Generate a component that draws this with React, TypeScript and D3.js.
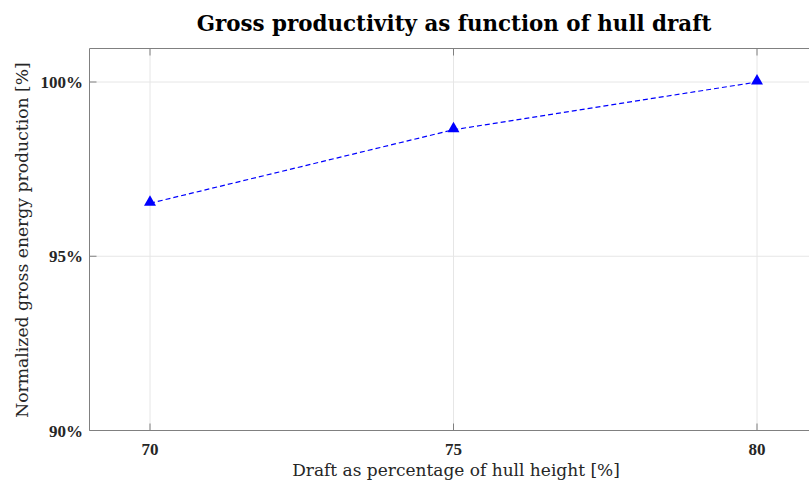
import React from "react";
import * as d3 from "d3";

const drafts = [70, 75, 80];
const production = [96.52, 98.63, 100];
const xTicks = [70, 75, 80];
const yTicks = [90, 95, 100];

const W = 809, H = 486;
const M = { left: 89.5, top: 48.5, bottom: 430.5 };
const FONT = "'Liberation Serif', serif";
const FONT2 = "'DejaVu Serif', serif";

export default function App() {
  const x = d3.scaleLinear().domain([70, 80]).range([150, 757]);
  const y = d3.scaleLinear().domain([90, 100]).range([430.5, 82]);
  const right = x(81.2);
  const line = d3.line<number>().x((_, i) => x(drafts[i])).y((d) => y(d));
  const tri = d3.symbol().type(d3.symbolTriangle).size(62)();
  return (
    <svg width={W} height={H} style={{ position: "absolute", left: 0, top: 0 }}>
      <rect width={W} height={H} fill="#fff" />
      {xTicks.map((t) => (
        <line key={"gx" + t} x1={x(t)} x2={x(t)} y1={M.top} y2={M.bottom} stroke="#e6e6e6" strokeWidth={1} />
      ))}
      {yTicks.map((t) => (
        <line key={"gy" + t} x1={M.left} x2={right} y1={y(t)} y2={y(t)} stroke="#e6e6e6" strokeWidth={1} />
      ))}
      <line x1={M.left} x2={right} y1={M.top} y2={M.top} stroke="#808080" />
      <line x1={M.left} x2={right} y1={M.bottom} y2={M.bottom} stroke="#808080" />
      <line x1={M.left} x2={M.left} y1={M.top} y2={M.bottom} stroke="#808080" />
      {xTicks.map((t) => (
        <g key={"tx" + t}>
          <line x1={x(t)} x2={x(t)} y1={M.bottom} y2={M.bottom - 7} stroke="#808080" />
          <line x1={x(t)} x2={x(t)} y1={M.top} y2={M.top + 7} stroke="#808080" />
          <text x={x(t)} y={455} textAnchor="middle" fontFamily={FONT} fontWeight="bold" fontSize={17} fill="#262626">{t}</text>
        </g>
      ))}
      {yTicks.map((t) => (
        <g key={"ty" + t}>
          <line x1={M.left} x2={M.left + 7} y1={y(t)} y2={y(t)} stroke="#808080" />
          <text x={83} y={y(t) + 6} textAnchor="end" fontFamily={FONT} fontWeight="bold" fontSize={17} fill="#262626">{t}%</text>
        </g>
      ))}
      <path d={line(production) || ""} fill="none" stroke="#0000ff" strokeWidth={1.2} strokeDasharray="5,3" />
      {production.map((v, i) => (
        <path key={"m" + i} d={tri || ""} transform={`translate(${x(drafts[i])},${y(v) - 1})`} fill="#0000ff" />
      ))}
      <text x={454} y={31} textAnchor="middle" fontFamily={FONT2} fontWeight="bold" fontSize={21.4} fill="#000">Gross productivity as function of hull draft</text>
      <text x={456} y={476} textAnchor="middle" fontFamily={FONT2} fontSize={17} fill="#262626">Draft as percentage of hull height [%]</text>
      <text transform={`translate(28,240) rotate(-90)`} textAnchor="middle" fontFamily={FONT2} fontSize={17.2} fill="#262626">Normalized gross energy production [%]</text>
    </svg>
  );
}
